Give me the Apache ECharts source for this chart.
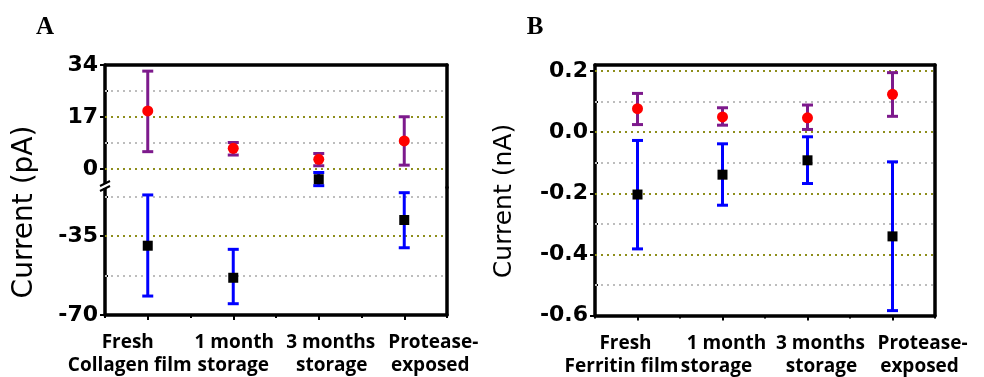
<!DOCTYPE html>
<html>
<head>
<meta charset="utf-8">
<script src="https://cdn.jsdelivr.net/npm/echarts@6/dist/echarts.min.js"></script>
<style>
    html, body {margin: 0; padding: 0; background: #fff;}
    #main {width: 984px; height: 377px;}
</style>
</head>
<body>
<div id="main"></div>
<script>
    // categories
    const catsA = ['Fresh\nCollagen film', '1 month\nstorage', '3 months\nstorage', 'Protease-\nexposed'];
    const catsB = ['Fresh\nFerritin film', '1 month\nstorage', '3 months\nstorage', 'Protease-\nexposed'];

    // panel A (pA) - red points / purple bars
    const redMeanA = [19.0, 6.8, 3.2, 9.2];
    const redLowA = [5.7, 4.6, 1.1, 1.3];
    const redHighA = [32.0, 8.7, 5.1, 17.1];
    // panel A - black points / blue bars
    const blackMeanA = [-39.3, -53.5, -3.3, -27.9];
    const blackLowA = [-61.6, -65.0, -5.4, -40.2];
    const blackHighA = [-16.8, -40.9, -1.1, -15.8];

    // panel B (nA)
    const redMeanB = [0.077, 0.050, 0.047, 0.124];
    const redLowB = [0.025, 0.023, 0.009, 0.052];
    const redHighB = [0.127, 0.080, 0.089, 0.195];
    const blackMeanB = [-0.204, -0.139, -0.092, -0.341];
    const blackLowB = [-0.382, -0.239, -0.168, -0.584];
    const blackHighB = [-0.027, -0.038, -0.015, -0.097];

    // tick labels
    const ticksTopA = [0, 17, 34];
    const minorTopA = [8.5, 25.5];
    const ticksBotA = [-70, -35];
    const minorBotA = [-52.5, -17.5];
    const ticksB = [-0.6, -0.4, -0.2, 0, 0.2];
    const minorB = [-0.5, -0.3, -0.1, 0.1];

    // broken axis of panel A
    const topRangeA = [-6, 34];
    const botRangeA = [-70, -13.5];
    const rangeB = [-0.6, 0.22];

    // 类目标签的水平偏移（每行）
    const labelShiftA = [[-20, -18], [1, 0], [12, 13], [29, 26]];
    const labelShiftB = [[-12, -16], [4, -6], [13, 14], [30, 27]];

    const OLIVE = '#8e8e1c', GRAY = '#bdbdbd', PURPLE = '#7d1a8c', BLUE = '#0000ff';
    const NUM_FONT = 'DejaVu Sans', CAT_FONT = 'Open Sans';
    const LINE_W = 3.5;

    let chart = echarts.init(document.getElementById('main'));

    //纵轴：主刻度+次刻度+右框线
    let valueAxes = (grid, range, major, minor, fmt) => [
        {
            type: 'value', gridIndex: grid, position: 'left', min: range[0], max: range[1],
            axisLine: {show: true, onZero: false, lineStyle: {color: '#000', width: LINE_W}},
            axisTick: {show: true, customValues: major, length: 5, lineStyle: {color: '#000', width: 2}},
            axisLabel: {
                show: true, customValues: major, margin: 7, formatter: fmt, color: '#000',
                fontFamily: NUM_FONT, fontWeight: 'bold', fontSize: 22
            },
            splitLine: {show: false}
        },
        {
            type: 'value', gridIndex: grid, position: 'left', min: range[0], max: range[1],
            axisLine: {show: false},
            axisTick: {show: true, inside: true, customValues: minor, length: 3, lineStyle: {color: '#000', width: 2}},
            axisLabel: {show: false}, splitLine: {show: false}
        },
        {
            type: 'value', gridIndex: grid, position: 'right', min: range[0], max: range[1],
            axisLine: {show: true, onZero: false, lineStyle: {color: '#000', width: LINE_W}},
            axisTick: {show: false}, axisLabel: {show: false}, splitLine: {show: false}
        }
    ];

    let topAxis = (grid, cats) => ({
        type: 'category', gridIndex: grid, position: 'top', data: cats,
        axisLine: {show: true, onZero: false, lineStyle: {color: '#000', width: LINE_W}},
        axisTick: {show: false}, axisLabel: {show: false}, splitLine: {show: false}
    });

    let richFor = shifts => {
        let rich = {};
        shifts.forEach((pair, i) => pair.forEach((d, j) => {
            rich['p' + i + j] = {
                fontFamily: CAT_FONT, fontWeight: 'bold', fontSize: 19, lineHeight: 23, color: '#000',
                padding: d > 0 ? [0, 0, 0, 2 * d] : [0, -2 * d, 0, 0]
            };
        }));
        return rich;
    };

    let bottomAxes = (grid, cats, shifts) => [
        {
            type: 'category', gridIndex: grid, position: 'bottom', data: cats,
            axisLine: {show: true, onZero: false, lineStyle: {color: '#000', width: LINE_W}},
            axisTick: {show: true, alignWithLabel: true, interval: 0, length: 5, lineStyle: {color: '#000', width: 2}},
            axisLabel: {
                interval: 0, margin: 16.5, color: '#000', fontFamily: CAT_FONT, fontWeight: 'bold',
                fontSize: 19, lineHeight: 23,
                formatter: (value, index) => value.split('\n').map((s, j) => '{p' + index + j + '|' + s + '}').join('\n'),
                rich: richFor(shifts)
            }
        },
        {
            type: 'category', gridIndex: grid, position: 'bottom', data: cats,
            axisLine: {show: false, onZero: false},
            axisTick: {show: true, interval: 0, length: 3, lineStyle: {color: '#000', width: 2}},
            axisLabel: {show: false}
        }
    ];

    // 误差棒
    let errorBar = color => (params, api) => {
        let p1 = api.coord([api.value(0), api.value(2)]);
        let p2 = api.coord([api.value(0), api.value(1)]);
        let half = 5.5;
        let style = {stroke: color, lineWidth: 3};
        return {
            type: 'group', children: [
                {type: 'line', shape: {x1: p1[0], y1: p1[1], x2: p2[0], y2: p2[1]}, style},
                {type: 'line', shape: {x1: p1[0] - half, y1: p1[1], x2: p1[0] + half, y2: p1[1]}, style},
                {type: 'line', shape: {x1: p2[0] - half, y1: p2[1], x2: p2[0] + half, y2: p2[1]}, style}
            ]
        };
    };

    let pick = (mean, keep) => mean.map((v, i) => i).filter(i => keep(mean[i]));

    let markSeries = (xi, yi, mean, low, high, idx, color, barColor, symbol, size) => [
        {
            type: 'custom', xAxisIndex: xi, yAxisIndex: yi, z: 10,
            renderItem: errorBar(barColor),
            encode: {x: 0, y: [1, 2]},
            data: idx.map(i => [i, low[i], high[i]])
        },
        {
            type: 'scatter', xAxisIndex: xi, yAxisIndex: yi, z: 11,
            symbol, symbolSize: size, itemStyle: {color, opacity: 1},
            data: idx.map(i => [i, mean[i]])
        }
    ];

    let gridLines = (xi, yi, major, minor, range) => ({
        type: 'scatter', xAxisIndex: xi, yAxisIndex: yi, data: [],
        markLine: {
            silent: true, symbol: ['none', 'none'], label: {show: false},
            data: major.filter(v => v > range[0] && v < range[1])
                .map(v => ({yAxis: v, lineStyle: {color: OLIVE, type: [2, 4], width: 2}}))
                .concat(minor.map(v => ({yAxis: v, lineStyle: {color: GRAY, type: [2, 4], width: 2}})))
        }
    });

    let all = [0, 1, 2, 3];
    let topA = pick(blackMeanA, v => v >= topRangeA[0]);
    let botA = pick(blackMeanA, v => v <= botRangeA[1]);

    let option = {
        animation: false,
        grid: [
            {left: 105, top: 65, width: 342, height: 122.5, outerBoundsMode: 'none'},
            {left: 105, top: 187.5, width: 342, height: 127.5, outerBoundsMode: 'none'},
            {left: 595, top: 65, width: 340, height: 250.5, outerBoundsMode: 'none'}
        ],
        xAxis: [
            topAxis(0, catsA),
            ...bottomAxes(1, catsA, labelShiftA),
            topAxis(2, catsB),
            ...bottomAxes(2, catsB, labelShiftB)
        ],
        yAxis: [
            ...valueAxes(0, topRangeA, ticksTopA, minorTopA, v => String(v)),
            ...valueAxes(1, botRangeA, ticksBotA, minorBotA, v => String(v)),
            ...valueAxes(2, rangeB, ticksB, minorB, v => v.toFixed(1))
        ],
        series: [
            gridLines(0, 0, ticksTopA, minorTopA, topRangeA),
            gridLines(1, 3, ticksBotA, minorBotA, botRangeA),
            gridLines(4, 6, ticksB, minorB, rangeB),
            ...markSeries(0, 0, redMeanA, redLowA, redHighA, all, '#ff0000', PURPLE, 'circle', 11),
            ...markSeries(0, 0, blackMeanA, blackLowA, blackHighA, topA, '#000', BLUE, 'rect', 10),
            ...markSeries(1, 3, blackMeanA, blackLowA, blackHighA, botA, '#000', BLUE, 'rect', 10),
            ...markSeries(4, 6, redMeanB, redLowB, redHighB, all, '#ff0000', PURPLE, 'circle', 11),
            ...markSeries(4, 6, blackMeanB, blackLowB, blackHighB, all, '#000', BLUE, 'rect', 10)
        ],
        graphic: [
            {type: 'text', x: 45, y: 28, style: {text: 'A', font: 'bold 25px "Liberation Serif"', fill: '#000', align: 'center', verticalAlign: 'middle'}},
            {type: 'text', x: 535, y: 28, style: {text: 'B', font: 'bold 25px "Liberation Serif"', fill: '#000', align: 'center', verticalAlign: 'middle'}},
            {type: 'text', x: 25, y: 212, rotation: Math.PI / 2, style: {text: 'Current (pA)', font: '28px "DejaVu Sans"', fill: '#000', align: 'center', verticalAlign: 'middle'}},
            {type: 'text', x: 504, y: 201, rotation: Math.PI / 2, style: {text: 'Current (nA)', font: '25px "DejaVu Sans"', fill: '#000', align: 'center', verticalAlign: 'middle'}},
            // 断轴符号
            {type: 'rect', shape: {x: 102, y: 184, width: 6, height: 4}, style: {fill: '#fff'}, z: 100},
            {type: 'line', shape: {x1: 100, y1: 186, x2: 110, y2: 181}, style: {stroke: '#000', lineWidth: 2}, z: 100},
            {type: 'line', shape: {x1: 100, y1: 191, x2: 110, y2: 186}, style: {stroke: '#000', lineWidth: 2}, z: 100}
        ]
    };
    chart.setOption(option);
</script>
</body>
</html>
